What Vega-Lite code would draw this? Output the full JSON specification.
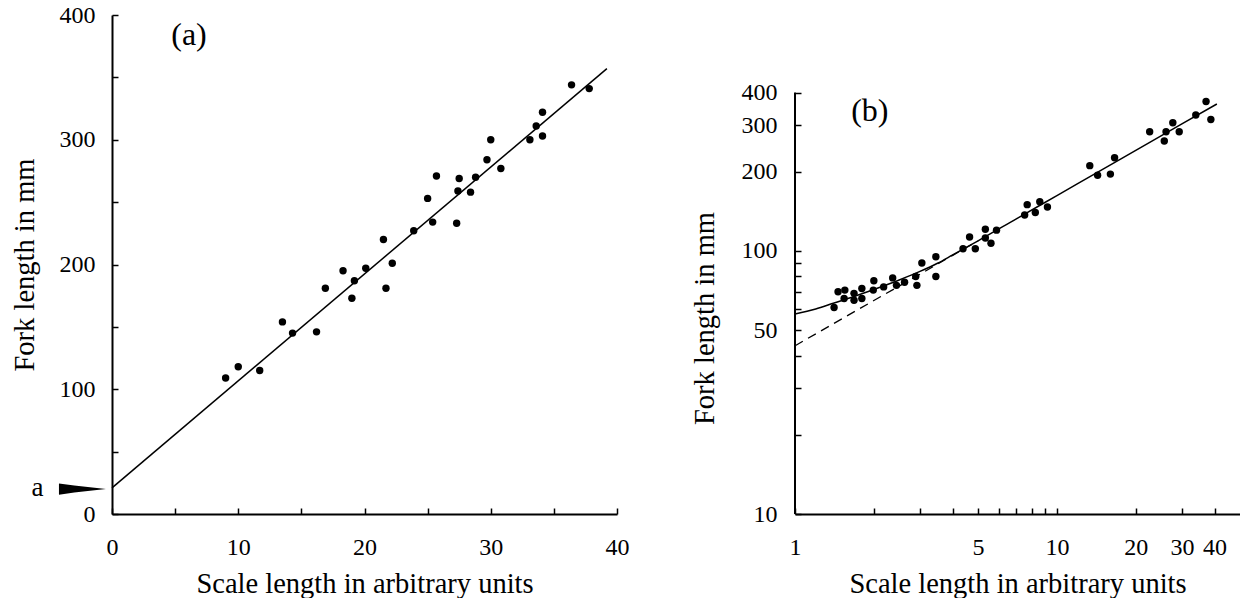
{
  "$schema": "https://vega.github.io/schema/vega-lite/v6.json",
  "background": "white",
  "padding": {"left": 10, "top": 3, "right": 0, "bottom": 0},
  "bounds": "flush",
  "spacing": 178,
  "config": {
    "view": {"stroke": null},
    "font": "Liberation Serif",
    "axis": {
      "grid": false,
      "domainColor": "black",
      "domainWidth": 2,
      "tickColor": "black",
      "tickWidth": 1.5,
      "tickSize": -6,
      "labelColor": "black",
      "titleColor": "black",
      "labelFont": "Liberation Serif",
      "titleFont": "Liberation Serif",
      "labelFontSize": 24,
      "titleFontSize": 28.5,
      "titleFontWeight": "normal",
      "labelFlush": false,
      "labelOverlap": false
    }
  },
  "datasets": {
    "pointsA": [
      {"S": 9.0, "L": 109}, {"S": 10.0, "L": 118}, {"S": 11.7, "L": 115},
      {"S": 13.5, "L": 154}, {"S": 14.3, "L": 145}, {"S": 16.2, "L": 146},
      {"S": 16.9, "L": 181}, {"S": 18.3, "L": 195}, {"S": 19.0, "L": 173},
      {"S": 19.2, "L": 187}, {"S": 20.1, "L": 197}, {"S": 21.5, "L": 220},
      {"S": 21.7, "L": 181}, {"S": 22.2, "L": 201}, {"S": 23.9, "L": 227},
      {"S": 25.0, "L": 253}, {"S": 25.4, "L": 234}, {"S": 25.7, "L": 271},
      {"S": 27.3, "L": 233}, {"S": 27.4, "L": 259}, {"S": 27.5, "L": 269},
      {"S": 28.4, "L": 258}, {"S": 28.8, "L": 270}, {"S": 29.7, "L": 284},
      {"S": 30.0, "L": 300}, {"S": 30.8, "L": 277}, {"S": 33.1, "L": 300},
      {"S": 33.6, "L": 311}, {"S": 34.1, "L": 322}, {"S": 34.1, "L": 303},
      {"S": 36.4, "L": 344}, {"S": 37.8, "L": 341}
    ],
    "lineA": [{"S": 0, "L": 21}, {"S": 39.2, "L": 357}],
    "pointsB": [
      {"S": 1.41, "L": 61}, {"S": 1.46, "L": 70}, {"S": 1.54, "L": 66},
      {"S": 1.55, "L": 71}, {"S": 1.68, "L": 65}, {"S": 1.68, "L": 69},
      {"S": 1.80, "L": 66}, {"S": 1.80, "L": 72}, {"S": 1.99, "L": 71},
      {"S": 2.0, "L": 77}, {"S": 2.18, "L": 73}, {"S": 2.36, "L": 79},
      {"S": 2.44, "L": 74}, {"S": 2.62, "L": 76}, {"S": 2.89, "L": 80},
      {"S": 2.92, "L": 74}, {"S": 3.05, "L": 90}, {"S": 3.45, "L": 95},
      {"S": 3.45, "L": 80}, {"S": 4.38, "L": 102}, {"S": 4.64, "L": 113},
      {"S": 4.88, "L": 102}, {"S": 5.33, "L": 121}, {"S": 5.33, "L": 112},
      {"S": 5.6, "L": 107}, {"S": 5.88, "L": 120}, {"S": 7.53, "L": 137},
      {"S": 7.7, "L": 150}, {"S": 8.27, "L": 140}, {"S": 8.6, "L": 154},
      {"S": 9.2, "L": 147}, {"S": 13.35, "L": 211}, {"S": 14.3, "L": 194},
      {"S": 16.0, "L": 196}, {"S": 16.6, "L": 226}, {"S": 22.6, "L": 284},
      {"S": 25.7, "L": 262}, {"S": 26.1, "L": 284}, {"S": 27.7, "L": 307},
      {"S": 29.3, "L": 284}, {"S": 33.9, "L": 329}, {"S": 37.1, "L": 370},
      {"S": 38.7, "L": 316}
    ],
    "solidB": [
      {"S": 1, "L": 57.6}, {"S": 1.2, "L": 60.2}, {"S": 1.4, "L": 63.3},
      {"S": 1.7, "L": 67.4}, {"S": 2, "L": 71.4}, {"S": 2.5, "L": 77.6},
      {"S": 3, "L": 83.6}, {"S": 3.5, "L": 89.8}, {"S": 4, "L": 96.6},
      {"S": 5, "L": 109.3}, {"S": 7, "L": 132.5}, {"S": 10, "L": 162.4},
      {"S": 15, "L": 204.7}, {"S": 20, "L": 241.2}, {"S": 30, "L": 304},
      {"S": 40.8, "L": 362}
    ],
    "dashB": [
      {"S": 1, "L": 43.6}, {"S": 2, "L": 64.8}, {"S": 3, "L": 81.6},
      {"S": 4, "L": 96.2}, {"S": 5, "L": 109.3}
    ]
  },
  "hconcat": [
    {
      "width": 505,
      "height": 499,
      "layer": [
        {
          "data": {"name": "pointsA"},
          "mark": {"type": "point", "filled": true, "color": "black", "opacity": 1, "size": 55},
          "encoding": {
            "x": {
              "field": "S", "type": "quantitative",
              "scale": {"domain": [0, 40], "nice": false, "zero": false},
              "axis": {
                "title": "Scale length in arbitrary units",
                "values": [0, 5, 10, 15, 20, 25, 30, 35, 40],
                "labelExpr": "datum.value % 10 === 0 ? datum.label : ''",
                "labelPadding": 27,
                "titlePadding": 10
              }
            },
            "y": {
              "field": "L", "type": "quantitative",
              "scale": {"domain": [0, 400], "nice": false, "zero": false},
              "axis": {
                "title": "Fork length in mm",
                "values": [0, 50, 100, 150, 200, 250, 300, 350, 400],
                "labelExpr": "datum.value % 100 === 0 ? datum.label : ''",
                "labelPadding": 23,
                "titlePadding": 20
              }
            }
          }
        },
        {
          "data": {"name": "lineA"},
          "mark": {"type": "line", "color": "black", "strokeWidth": 1.5},
          "encoding": {
            "x": {"field": "S", "type": "quantitative"},
            "y": {"field": "L", "type": "quantitative"}
          }
        },
        {
          "data": {"values": [{}]},
          "mark": {"type": "point", "filled": true, "color": "black", "opacity": 1, "size": 2209,
                   "shape": "M -1 -0.24 L -0.35 -0.15 L 1 0 L -0.35 0.15 L -1 0.24 Z"},
          "encoding": {"x": {"datum": -2.34, "type": "quantitative"}, "y": {"datum": 20, "type": "quantitative"}}
        },
        {
          "data": {"values": [{}]},
          "mark": {"type": "text", "text": "a", "fontSize": 27, "font": "Liberation Serif", "color": "black", "align": "center", "baseline": "middle"},
          "encoding": {"x": {"datum": -5.9, "type": "quantitative"}, "y": {"datum": 21, "type": "quantitative"}}
        },
        {
          "data": {"values": [{}]},
          "mark": {"type": "text", "text": "(a)", "fontSize": 32, "font": "Liberation Serif", "color": "black", "align": "center", "baseline": "middle"},
          "encoding": {"x": {"datum": 6.1, "type": "quantitative"}, "y": {"datum": 384, "type": "quantitative"}}
        }
      ]
    },
    {
      "width": 445,
      "height": 499,
      "layer": [
        {
          "data": {"name": "pointsB"},
          "mark": {"type": "point", "filled": true, "color": "black", "opacity": 1, "size": 55},
          "encoding": {
            "x": {
              "field": "S", "type": "quantitative",
              "scale": {"type": "log", "domain": [1, 50], "nice": false, "zero": false},
              "axis": {
                "title": "Scale length in arbitrary units",
                "values": [1, 2, 3, 4, 5, 6, 7, 8, 9, 10, 20, 30, 40],
                "labelExpr": "indexof([1,5,10,20,30,40], datum.value) >= 0 ? datum.label : ''",
                "labelPadding": 27,
                "titlePadding": 10
              }
            },
            "y": {
              "field": "L", "type": "quantitative",
              "scale": {"type": "log", "domain": [10, 789], "nice": false, "zero": false},
              "axis": {
                "title": "Fork length in mm",
                "domain": false,
                "values": [10, 20, 30, 40, 50, 60, 70, 80, 90, 100, 200, 300, 400],
                "labelExpr": "indexof([10,50,100,200,300,400], datum.value) >= 0 ? datum.label : ''",
                "labelPadding": 24,
                "titlePadding": 22,
                "titleY": 303
              }
            }
          }
        },
        {
          "data": {"values": [{}]},
          "mark": {"type": "rule", "color": "black", "strokeWidth": 2},
          "encoding": {
            "x": {"datum": 1, "type": "quantitative"},
            "y": {"datum": 10, "type": "quantitative"},
            "y2": {"datum": 400}
          }
        },
        {
          "data": {"name": "dashB"},
          "mark": {"type": "line", "color": "black", "strokeWidth": 1.3, "strokeDash": [9, 6], "interpolate": "monotone"},
          "encoding": {
            "x": {"field": "S", "type": "quantitative"},
            "y": {"field": "L", "type": "quantitative"}
          }
        },
        {
          "data": {"name": "solidB"},
          "mark": {"type": "line", "color": "black", "strokeWidth": 1.5, "interpolate": "monotone"},
          "encoding": {
            "x": {"field": "S", "type": "quantitative"},
            "y": {"field": "L", "type": "quantitative"}
          }
        },
        {
          "data": {"values": [{}]},
          "mark": {"type": "text", "text": "(b)", "fontSize": 32, "font": "Liberation Serif", "color": "black", "align": "center", "baseline": "middle"},
          "encoding": {"x": {"datum": 1.93, "type": "quantitative"}, "y": {"datum": 340, "type": "quantitative"}}
        }
      ]
    }
  ]
}
